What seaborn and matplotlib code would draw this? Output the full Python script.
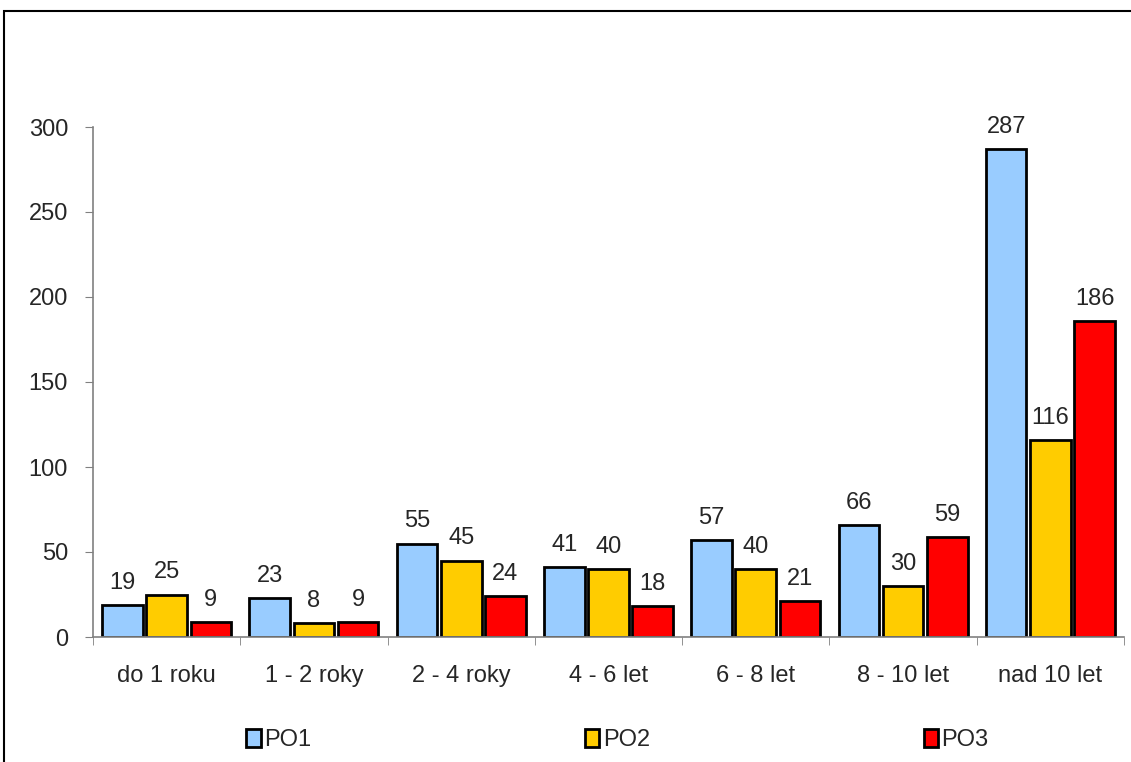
import matplotlib
matplotlib.use("Agg")
import matplotlib.pyplot as plt
import seaborn as sns
import pandas as pd
from matplotlib.patches import Rectangle

categories = ["do 1 roku", "1 - 2 roky", "2 - 4 roky", "4 - 6 let", "6 - 8 let", "8 - 10 let", "nad 10 let"]
po1 = [19, 23, 55, 41, 57, 66, 287]
po2 = [25, 8, 45, 40, 40, 30, 116]
po3 = [9, 9, 24, 18, 21, 59, 186]
series = ["PO1", "PO2", "PO3"]
colors = ["#99CCFF", "#FFCC00", "#FF0000"]

df = pd.DataFrame({
    "kategorie": categories * 3,
    "hodnota": po1 + po2 + po3,
    "serie": [s for s in series for _ in categories],
})

sns.set_style("white")
plt.rcParams["font.family"] = ["Liberation Sans", "DejaVu Sans"]
FS = 17

W, H = 1131, 762
fig = plt.figure(figsize=(W / 100, H / 100), dpi=100)
ax = fig.add_axes([93 / W, 1 - 637 / H, (1124 - 93) / W, (637 - 127) / H])

sns.barplot(data=df, x="kategorie", y="hodnota", hue="serie", order=categories,
            hue_order=series, palette=colors, width=0.9, gap=0.08,
            edgecolor="black", linewidth=2, saturation=1, ax=ax, legend=False)

for cont in ax.containers:
    ax.bar_label(cont, padding=8, fontsize=FS)

ax.set_ylim(0, 300)
ax.set_xlim(-0.5, len(categories) - 0.5)
ax.set_yticks(range(0, 301, 50))
ax.set_xlabel("")
ax.set_ylabel("")
ax.tick_params(axis="y", labelsize=FS, length=6, color="#808080", direction="out", left=True, pad=12)
ax.tick_params(axis="x", labelsize=FS, length=0, pad=20)
# category boundary ticks
ax.set_xticks([i - 0.5 for i in range(len(categories) + 1)], minor=True)
ax.tick_params(axis="x", which="minor", length=6, color="#808080", direction="out", bottom=True)

for s in ["top", "right"]:
    ax.spines[s].set_visible(False)
for s in ["left", "bottom"]:
    ax.spines[s].set_color("#808080")
    ax.spines[s].set_linewidth(1.2)

handles = [Rectangle((0, 0), 1, 1, facecolor=c, edgecolor="black", linewidth=2) for c in colors]
fig.legend(handles, series, loc="center", bbox_to_anchor=(0.546, 1 - 740 / H), ncol=3,
           frameon=False, fontsize=FS, handlelength=0.6, handleheight=0.8,
           handletextpad=0.15, columnspacing=11.6)

# outer chart frame (cut off at the right and bottom)
fig.patches.append(Rectangle((4 / W, -0.1), 1.2, (1 - 11 / H) + 0.1, transform=fig.transFigure,
                             fill=False, edgecolor="black", linewidth=1.5))

fig.savefig("out.png", dpi=100)
